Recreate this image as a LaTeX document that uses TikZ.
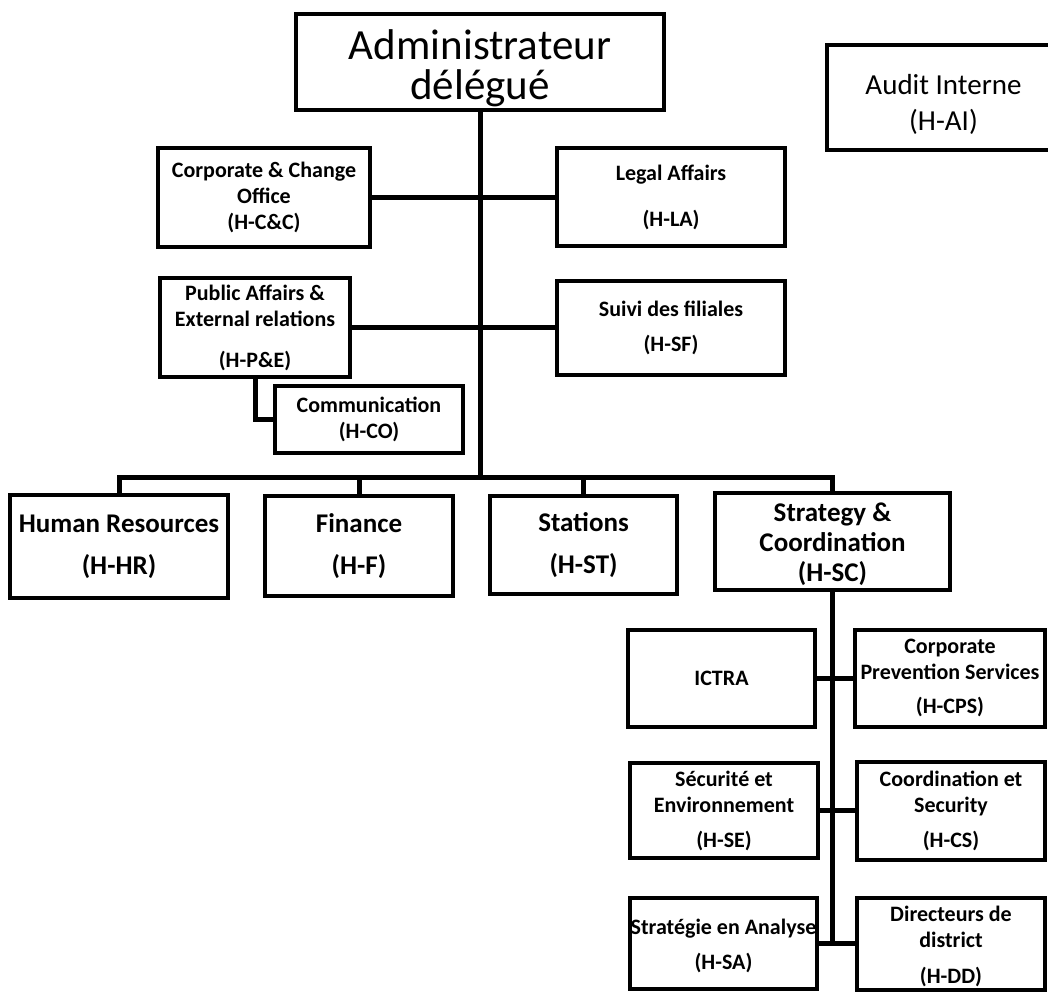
\documentclass[tikz,border=0pt]{standalone}
\usepackage{fontspec}
\setmainfont{Carlito}
\tikzset{
  unit/.style={draw,rectangle,line width=4pt,align=center,inner sep=0pt},
  boxdim/.style 2 args={minimum width=#1pt,minimum height=#2pt},
  wire/.style={draw,line width=5pt},
  bigtxt/.style={font=\fontsize{43}{40}\selectfont},
  audtxt/.style={font=\fontsize{29}{36}\selectfont},
  midtxt/.style={font=\fontsize{27}{42}\selectfont\bfseries},
  smalltxt/.style={font=\fontsize{22}{26}\selectfont\bfseries}
}
\begin{document}
\begin{tikzpicture}[x=1pt,y=-1pt]
  \useasboundingbox (0,0) rectangle (1048,992);

  % top
  \node[unit,bigtxt,boxdim={368}{96}] (adm) at (480,62) {\rule{0pt}{42pt}Administrateur\\délégué};
  \node[unit,audtxt,boxdim={233}{105}] (ai) at (943.5,97.5) {\rule{0pt}{34pt}Audit Interne\\(H-AI)};

  % staff
  \node[unit,smalltxt,boxdim={212}{99}] (cc) at (264,197.5) {Corporate \& Change\\Office\\(H-C\&C)};
  \node[unit,smalltxt,boxdim={228}{98}] (la) at (671,197) {Legal Affairs\\[20pt](H-LA)};
  \node[unit,smalltxt,boxdim={190}{99}] (pe) at (255,327.5) {Public Affairs \&\\External relations\\[15pt](H-P\&E)};
  \node[unit,smalltxt,boxdim={228}{94}] (sf) at (671,327.5) {Suivi des filiales\\[9pt](H-SF)};
  \node[unit,smalltxt,boxdim={188}{67}] (co) at (369,419.5) {Communication\\(H-CO)};

  % departments
  \node[unit,midtxt,boxdim={218}{103}] (hr) at (119,546.5) {Human Resources\\(H-HR)};
  \node[unit,midtxt,boxdim={188}{100}] (fin) at (359,546) {Finance\\(H-F)};
  \node[unit,midtxt,boxdim={187}{98}] (st) at (583.5,545) {Stations\\(H-ST)};
  \node[unit,midtxt,boxdim={235}{97},font=\fontsize{27}{30}\selectfont\bfseries] (sc) at (832.5,541.5) {\rule{0pt}{25pt}Strategy \&\\Coordination\\(H-SC)};

  % under strategy
  \node[unit,smalltxt,boxdim={187}{97}] (ict) at (721.5,678.5) {ICTRA};
  \node[unit,smalltxt,boxdim={190}{97}] (cps) at (950,678) {Corporate\\Prevention Services\\[8pt](H-CPS)};
  \node[unit,smalltxt,boxdim={188}{95}] (se) at (724,810.5) {Sécurité et\\Environnement\\[9pt](H-SE)};
  \node[unit,smalltxt,boxdim={188}{98}] (cs) at (951,810.5) {Coordination et\\Security\\[9pt](H-CS)};
  \node[unit,smalltxt,boxdim={187}{91}] (sa) at (723.5,943.5) {\rule{0pt}{21pt}Stratégie en Analyse\\[9pt](H-SA)};
  \node[unit,smalltxt,boxdim={188}{92}] (dd) at (951,943.5) {\rule{0pt}{21pt}Directeurs de\\district\\[10pt](H-DD)};

  \coordinate (bus) at (480,477);

  \draw[wire] (adm.south)--(bus);
  \draw[wire] (cc.east)--(cc.east-|la.west);
  \draw[wire] (pe.east)--(sf.west);
  \draw[wire] (pe.south)|-(co.west);
  \draw[wire] (hr.north)|-(bus)-|(sc.north);
  \draw[wire] (fin.north)--(fin.north|-bus);
  \draw[wire] (st.north)--(st.north|-bus);

  \draw[wire] (sc.south)--(sc.south|-sa.east);
  \draw[wire] (ict.east)--(ict.east-|cps.west);
  \draw[wire] (se.east)--(se.east-|cs.west);
  \draw[wire] (sa.east)--(sa.east-|dd.west);
\end{tikzpicture}
\end{document}
